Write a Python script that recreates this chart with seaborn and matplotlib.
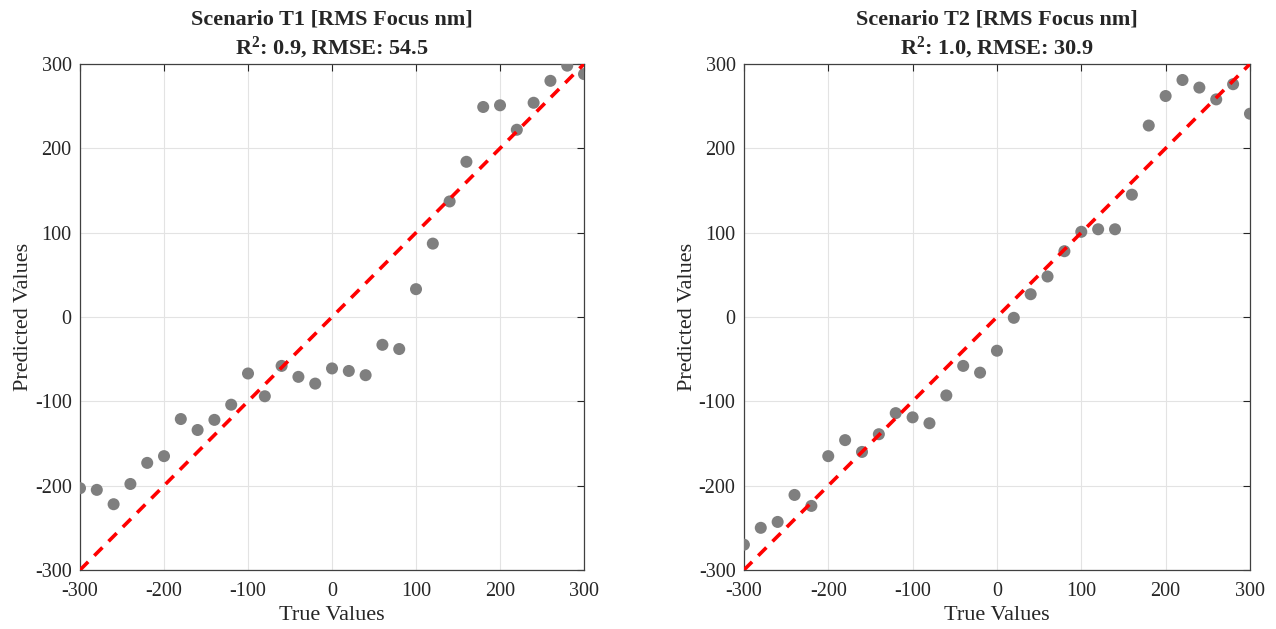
import numpy as np
import pandas as pd
import matplotlib
matplotlib.use("Agg")
import matplotlib.pyplot as plt
import seaborn as sns

true_vals = list(range(-300, 301, 20))
pred_t1 = [-203, -205, -222, -198, -173, -165, -121, -134, -122, -104,
           -67, -94, -58, -71, -79, -61, -64, -69, -33, -38,
           33, 87, 137, 184, 249, 251, 222, 254, 280, 298, 288]
pred_t2 = [-270, -250, -243, -211, -224, -165, -146, -160, -139, -114,
           -119, -126, -93, -58, -66, -40, -1, 27, 48, 78,
           101, 104, 104, 145, 227, 262, 281, 272, 258, 276, 241]
titles = ["Scenario T1 [RMS Focus nm]", "Scenario T2 [RMS Focus nm]"]
r2_vals = ["0.9", "1.0"]
rmse_vals = ["54.5", "30.9"]
ticks = [-300, -200, -100, 0, 100, 200, 300]
ident = [-300, 300]

sns.set_theme(style="white")
plt.rcParams['font.family'] = ['Liberation Serif', 'DejaVu Serif']
plt.rcParams['mathtext.fontset'] = 'custom'
plt.rcParams['mathtext.rm'] = 'Liberation Serif'
plt.rcParams['mathtext.bf'] = 'Liberation Serif:bold'
plt.rcParams['mathtext.it'] = 'Liberation Serif:italic'
plt.rcParams['axes.unicode_minus'] = False

fig = plt.figure(figsize=(12.76, 6.29), dpi=100)
axes = [fig.add_axes([0.0627, 0.0938, 0.395, 0.8045]),
        fig.add_axes([0.583, 0.0938, 0.3966, 0.8045])]

for ax, preds, title, r2, rmse in zip(axes, [pred_t1, pred_t2], titles, r2_vals, rmse_vals):
    df = pd.DataFrame({"True": true_vals, "Pred": preds})
    ax.grid(True, color="#e3e3e3", linewidth=0.8)
    ax.set_axisbelow(True)
    sns.scatterplot(data=df, x="True", y="Pred", ax=ax, color="#7f7f7f",
                    s=75, edgecolor="none", zorder=3)
    ax.plot(ident, ident, color="red", linestyle=(0, (3.2, 2.4)), linewidth=2.6, zorder=4)
    ax.set_xlim(-300, 300)
    ax.set_ylim(-300, 300)
    ax.set_xticks(ticks)
    ax.set_yticks(ticks)
    ax.tick_params(direction="in", length=5, width=0.8, top=True, right=True,
                   labelsize=14.5, colors="#262626")
    ax.tick_params(axis="x", pad=9)
    ax.tick_params(axis="y", pad=6)
    for sp in ax.spines.values():
        sp.set_color("#404040")
        sp.set_linewidth(0.9)
    ax.set_xlabel("True Values", fontsize=16, color="#262626", labelpad=3)
    ax.set_ylabel("Predicted Values", fontsize=16, color="#262626", labelpad=1)
    ax.set_title(f"{title}\n" + r"$\mathbf{R^{2}}$" + f": {r2}, RMSE: {rmse}",
                 fontsize=16, fontweight="bold", pad=7, linespacing=1.25)

fig.savefig("out.png", dpi=100)
